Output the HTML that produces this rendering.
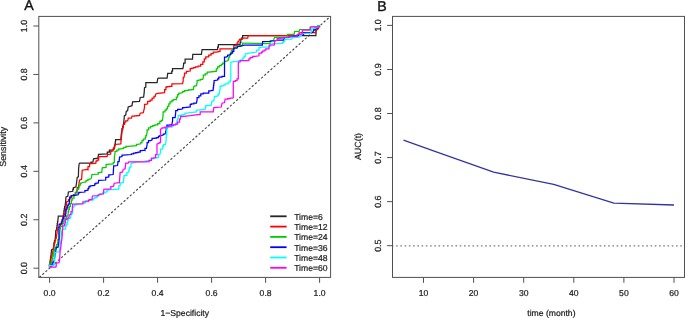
<!DOCTYPE html><html><head><meta charset="utf-8"><style>html,body{margin:0;padding:0;background:#fff;}svg{display:block;will-change:transform;}text{font-family:"Liberation Sans",sans-serif;text-rendering:geometricPrecision;}</style></head><body>
<svg width="685" height="318" viewBox="0 0 685 318">
<rect width="685" height="318" fill="#fff"/>
<rect x="38.8" y="16.4" width="291.80" height="261.00" fill="none" stroke="#505050" stroke-width="1"/>
<clipPath id="ca"><rect x="38.8" y="16.4" width="291.8" height="261"/></clipPath>
<line x1="36.10" y1="280.31" x2="333.10" y2="13.89" stroke="#484848" stroke-width="1.15" stroke-dasharray="2.3 1.9" clip-path="url(#ca)"/>
<line x1="49.60" y1="277.4" x2="49.60" y2="282.80" stroke="#505050" stroke-width="1"/>
<line x1="33.40" y1="268.20" x2="38.8" y2="268.20" stroke="#505050" stroke-width="1"/>
<text x="49.60" y="295.90" font-size="8.6" text-anchor="middle" fill="#222" stroke="#222" stroke-width="0.22">0.0</text>
<text transform="translate(26.60,268.20) rotate(-90)" font-size="8.9" text-anchor="middle" fill="#222" stroke="#222" stroke-width="0.22">0.0</text>
<line x1="103.60" y1="277.4" x2="103.60" y2="282.80" stroke="#505050" stroke-width="1"/>
<line x1="33.40" y1="219.76" x2="38.8" y2="219.76" stroke="#505050" stroke-width="1"/>
<text x="103.60" y="295.90" font-size="8.6" text-anchor="middle" fill="#222" stroke="#222" stroke-width="0.22">0.2</text>
<text transform="translate(26.60,219.76) rotate(-90)" font-size="8.9" text-anchor="middle" fill="#222" stroke="#222" stroke-width="0.22">0.2</text>
<line x1="157.60" y1="277.4" x2="157.60" y2="282.80" stroke="#505050" stroke-width="1"/>
<line x1="33.40" y1="171.32" x2="38.8" y2="171.32" stroke="#505050" stroke-width="1"/>
<text x="157.60" y="295.90" font-size="8.6" text-anchor="middle" fill="#222" stroke="#222" stroke-width="0.22">0.4</text>
<text transform="translate(26.60,171.32) rotate(-90)" font-size="8.9" text-anchor="middle" fill="#222" stroke="#222" stroke-width="0.22">0.4</text>
<line x1="211.60" y1="277.4" x2="211.60" y2="282.80" stroke="#505050" stroke-width="1"/>
<line x1="33.40" y1="122.88" x2="38.8" y2="122.88" stroke="#505050" stroke-width="1"/>
<text x="211.60" y="295.90" font-size="8.6" text-anchor="middle" fill="#222" stroke="#222" stroke-width="0.22">0.6</text>
<text transform="translate(26.60,122.88) rotate(-90)" font-size="8.9" text-anchor="middle" fill="#222" stroke="#222" stroke-width="0.22">0.6</text>
<line x1="265.60" y1="277.4" x2="265.60" y2="282.80" stroke="#505050" stroke-width="1"/>
<line x1="33.40" y1="74.44" x2="38.8" y2="74.44" stroke="#505050" stroke-width="1"/>
<text x="265.60" y="295.90" font-size="8.6" text-anchor="middle" fill="#222" stroke="#222" stroke-width="0.22">0.8</text>
<text transform="translate(26.60,74.44) rotate(-90)" font-size="8.9" text-anchor="middle" fill="#222" stroke="#222" stroke-width="0.22">0.8</text>
<line x1="319.60" y1="277.4" x2="319.60" y2="282.80" stroke="#505050" stroke-width="1"/>
<line x1="33.40" y1="26.00" x2="38.8" y2="26.00" stroke="#505050" stroke-width="1"/>
<text x="319.60" y="295.90" font-size="8.6" text-anchor="middle" fill="#222" stroke="#222" stroke-width="0.22">1.0</text>
<text transform="translate(26.60,26.00) rotate(-90)" font-size="8.9" text-anchor="middle" fill="#222" stroke="#222" stroke-width="0.22">1.0</text>
<polyline points="49.6,268 49.4,265.4 49.9,263.2 50.5,258.6 51.1,254.1 51.6,249.6 53.3,249 53.9,245.1 53.9,242.8 54.45,242.8 54.45,240.5 55,240.5 55.5,236 55.8,230.3 56.7,229.8 56.7,227.73 56.98,227.73 56.98,225.65 57.25,225.65 57.25,223.57 57.52,223.57 57.52,221.5 57.8,221.5 58.3,216 63.4,216 63.9,212.5 63.9,210.57 64.27,210.57 64.27,208.63 64.63,208.63 64.63,206.7 65,206.7 65.6,202 66,197 67.8,196.4 68.4,192 72.8,191.3 72.8,189.45 73.4,189.45 73.4,187.6 74,187.6 75.9,186.9 76.6,182.5 77.2,177.5 78.4,176.9 78.6,168.9 79.1,163.9 79.7,163.2 91,163.2 91,162 92.9,162 93.5,158.8 97.9,158.2 98.5,154.4 107.3,153.8 107.3,152 109.35,152 109.35,150.2 111.4,150.2 113.9,149.6 113.9,147.4 114.5,147.4 114.5,145.2 115.1,145.2 115.1,143.3 115.33,143.3 115.33,141.4 115.57,141.4 115.57,139.5 115.8,139.5 120.8,139.5 121.4,133.2 122,130.7 122,128.5 122.65,128.5 122.65,126.3 123.3,126.3 123.8,122 124.4,115.7 125.7,115.1 126.3,111.3 127.6,110.7 128.2,106.9 130.1,106.3 132,105.7 132.6,101.9 139.5,101.3 140.2,97.5 143.6,97.1 144.2,92.7 144.5,87.6 145.8,87 145.8,82.6 157.1,82.6 157.7,78.8 158.3,78.2 167.1,78.2 167.7,73.4 171.8,73.4 171.8,71.05 172.55,71.05 172.55,68.7 173.3,68.7 182.9,68.7 183.6,64.7 183.6,63.2 185.1,63.2 185.1,59.2 192.5,59.2 192.8,54.4 201.4,54.4 202.1,49.5 217.6,49.5 217.6,47.05 218.35,47.05 218.35,44.6 219.1,44.6 240.1,44.6 240.1,42.6 240.8,42.6 240.8,39.4 242,39.4 242,37.5 242.65,37.5 242.65,35.6 243.3,35.6 315.9,35.6 316.1,30.1 317.2,29.6 317.2,27.95 318.05,27.95 318.05,26.3 318.9,26.3 319.6,26" fill="none" stroke="#262626" stroke-width="1.25" stroke-linejoin="miter"/>
<polyline points="49.6,268 49.4,266 49.4,264.3 49.95,264.3 49.95,262.6 50.5,262.6 50.5,260.05 51.05,260.05 51.05,257.5 51.6,257.5 51.6,255.25 52.2,255.25 52.2,253 52.8,253 52.8,251.1 53.17,251.1 53.17,249.2 53.53,249.2 53.53,247.3 53.9,247.3 53.9,245.05 54.45,245.05 54.45,242.8 55,242.8 55,240.55 55.6,240.55 55.6,238.3 56.2,238.3 56.9,234 57.2,231.4 57.2,229.5 57.75,229.5 57.75,227.6 58.3,227.6 59.4,227 60.5,226.5 60.5,224 61.35,224 61.35,221.5 62.2,221.5 62.2,219.6 62.75,219.6 62.75,217.7 63.3,217.7 63.3,214.9 64.4,214.9 64.4,213.25 64.95,213.25 64.95,211.6 65.5,211.6 65.5,209.4 65.85,209.4 65.85,207.2 66.2,207.2 66.5,202 68.4,201.4 68.4,199.5 69.7,199.5 69.7,198.2 70.9,198.2 71.5,196.4 71.5,195.7 73.4,195.7 73.4,194.5 75.3,194.5 75.3,192.6 76.6,192.6 77.2,188.8 77.2,187.6 78.4,187.6 79.1,182.5 79.7,180 81.6,179.4 82.2,170.2 87.2,169.5 88,169.8 88,166.6 89.6,166.6 89.6,163.5 91.9,163.5 95.9,163.1 95.9,161.1 97,161.1 97,160 98.6,160 98.8,157.5 98.8,156.5 107,156.5 107.6,154.6 110.7,154 110.7,151.4 111.4,151.4 113.2,150.8 113.2,148.3 114.5,148.3 115.1,144.5 120.8,143.9 121.4,137.6 122,132 122,129.75 122.65,129.75 122.65,127.5 123.3,127.5 123.3,124.4 124.6,124.4 124.6,122 125.7,122 125.7,120.8 127.6,120.8 128.2,118.9 128.2,118.2 131.4,118.2 132,116.4 132,116.17 134.5,116.17 134.5,115.93 137,115.93 137,115.7 139.5,115.7 140.2,113.2 143.3,112.6 143.9,110.1 144.5,107.6 144.5,104.4 145.8,104.4 147.7,103.8 147.7,101.3 150.2,101.3 150.2,100 152.1,100 152.1,98.1 154,98.1 154,96.3 155.2,96.3 155.8,93.9 157.7,93.3 164.6,92.7 164.6,89.5 165.9,89.5 165.9,87 166.9,87 166.9,86.65 169.4,86.65 169.4,86.3 171.9,86.3 171.9,83.8 173.2,83.8 182.6,83.6 183.2,80.7 183.2,77.5 183.9,77.5 184.5,75 184.5,73.1 186.4,73.1 186.4,71.3 187.6,71.3 190.2,71 190.2,68.7 191.8,68.7 191.8,68.2 193.65,68.2 193.65,67.7 195.5,67.7 195.5,66.95 198.05,66.95 198.05,66.2 200.6,66.2 200.6,64.3 202.8,64.3 202.8,61.8 204.3,61.8 204.3,58.8 205.8,58.8 205.8,56.9 208.7,56.9 208.7,55.1 211,55.1 211,53.6 213.2,53.6 213.2,52 216.3,52 220,51.4 220,48.8 222.5,48.8 233.8,48.8 233.8,45.7 235.1,45.7 237,45.1 237,43.2 237.95,43.2 237.95,41.3 238.9,41.3 239.5,39.4 242,38.8 243.3,38.2 247.7,38.2 248.3,35.5 299,35.5 299,32.8 300,32.8 301.8,32.5 315.6,32.5 316.1,29.6 316.1,28.5 317.2,28.5 318.4,28.7 318.4,27 319.2,27 319.6,26" fill="none" stroke="#ff0000" stroke-width="1.25" stroke-linejoin="miter"/>
<polyline points="49.6,268 49.9,266 49.9,263.2 51.6,263.2 51.6,260.9 52.2,260.9 52.2,258.6 52.8,258.6 52.8,256.73 53.17,256.73 53.17,254.87 53.53,254.87 53.53,253 53.9,253 53.9,251 54.45,251 54.45,249 55,249 55,247.9 56.2,247.9 56.2,246.2 56.75,246.2 56.75,244.5 57.3,244.5 57.9,241.7 57.9,239.4 59,239.4 59.6,236 60,230.3 60.5,228.1 60.5,226.5 62.2,226.5 62.2,223.7 63.3,223.7 63.3,221 64.9,221 64.9,218.2 66.6,218.2 66.6,216 67.7,216 68.2,213.8 68.2,211.6 68.75,211.6 68.75,209.4 69.3,209.4 69.3,206.5 70.4,206.5 70.4,203.3 71.5,203.3 71.5,200.1 72.2,200.1 72.2,198.2 74,198.2 74,195.7 74.7,195.7 74.7,194.5 75.9,194.5 75.9,192 77.2,192 77.2,189.4 78.4,189.4 79.1,187.6 79.1,185.1 80.3,185.1 80.3,183.2 81.6,183.2 82.2,182.5 86,181.9 86,180.7 87.9,180.7 87.9,179.4 89.1,179.4 91,178.8 91.6,176.9 91.9,174.5 98.2,174.1 98.2,172.5 99,172.5 101.8,172.2 102.2,167.8 106.1,167.4 106.1,164.3 106.9,164.3 113.2,163.9 113.2,162.7 114.3,162.7 114.4,157 115,153.2 115,151.4 116.9,151.4 116.9,150.1 118.8,150.1 118.8,148.8 121.3,148.8 123.8,148.2 123.8,147.25 126,147.25 126,146.3 128.2,146.3 136.4,145.7 136.4,144.4 137.6,144.4 140.8,143.8 140.8,142.6 142,142.6 142,140.7 143.3,140.7 143.3,139 145.2,139 145.2,137.25 145.8,137.25 145.8,135.5 146.4,135.5 147.1,132.7 147.1,129.9 148.5,129.9 148.5,127.8 150.7,127.8 150.7,126.4 152.8,126.4 152.8,125.7 154.9,125.7 154.9,124.9 157.7,124.9 157.7,123.5 159.8,123.5 159.8,121.4 161.3,121.4 161.3,120.4 162.5,120.4 163.1,115.1 163.1,111.9 165,111.9 165,110 166.3,110 166.3,108.8 167.5,108.8 167.5,106.3 168.8,106.3 168.8,103.8 170,103.8 170,101.9 171.9,101.9 171.9,100.6 173.2,100.6 173.2,99.5 176.3,99.5 176.3,97 177.6,97 177.6,94.5 178.8,94.5 178.8,93.2 180.7,93.2 182.6,92.6 182.6,91.65 184.5,91.65 184.5,90.7 186.4,90.7 186.4,90.3 188.7,90.3 188.7,89.9 191,89.9 191,89.5 193.3,89.5 193.9,86.3 196.4,85.7 197.1,82.6 197.1,80.7 198.3,80.7 198.3,80.05 200.5,80.05 200.5,79.4 202.7,79.4 203.3,77.5 203.3,75 205.2,75 205.2,73.8 207.1,73.8 207.1,72 210,72 210,71.77 212.1,71.77 212.1,71.53 214.2,71.53 214.2,71.3 216.3,71.3 216.3,68.8 217.6,68.8 217.6,66.9 219.4,66.9 219.4,65.7 221.3,65.7 221.3,64.4 222.6,64.4 222.6,63.1 224.5,63.1 224.5,61.3 225.7,61.3 228.2,60.6 228.2,58.8 228.8,58.8 228.8,57 229.4,57 230.1,55.1 230.1,53.9 231.3,53.9 231.3,50.7 232.6,50.7 232.6,48.8 233.8,48.8 234.5,47.6 236.4,47 236.4,46.3 238.9,46.3 240.1,45.7 242,45.1 242.6,44.4 242.6,43.2 243.3,43.2 269.7,43.5 270.2,42.1 270.2,40.6 271.3,40.6 273.7,40.4 274.4,37.3 287.1,37.3 287.3,34.4 294.1,34.4 294.6,31.5 299.1,31.4 299.8,29.5 310.1,29.3 310.4,27 317.7,26.5 317.7,25.6 318.5,25.6 319.6,25.8" fill="none" stroke="#00cd00" stroke-width="1.25" stroke-linejoin="miter"/>
<polyline points="49.6,268 49.6,266 51.1,266 51.1,264.3 52.8,264.3 52.8,262 53.9,262 54.5,258.6 55,255.3 55.6,251.9 56.2,248.5 56.2,247.3 57.9,247.3 58.4,245.1 58.8,242.8 59,240 58.9,231.4 59.1,224.3 61.6,223.7 62.2,221.5 62.2,219.85 63,219.85 63,218.2 63.8,218.2 63.8,216 65.5,216 66,211.6 66,209.7 66.85,209.7 66.85,207.8 67.7,207.8 67.7,205 68.5,205 68.5,204.2 69.2,204.2 69.6,199.9 69.6,197.2 71.1,197.2 71.1,195.6 72.7,195.6 75.9,195.2 78.2,194.8 78.2,193.2 79,193.2 79,192.4 79.8,192.4 84.9,192 84.9,190.5 85.7,190.5 88,190.1 88,188.5 88.8,188.5 88.8,186.9 90,186.9 90,185.8 90.8,185.8 94.7,185.4 94.7,183.8 95.9,183.8 95.9,183 98.2,183 98.6,180.4 105.7,180 105.7,177.3 106.5,177.3 108.8,176.9 108.8,174.9 109.6,174.9 113.2,174.5 113.6,167.4 113.6,165.9 114.7,165.9 117.5,165.5 117.9,162.7 117.9,161.5 119.1,161.5 119.6,157.1 122,156.5 122,155.2 123.3,155.2 131.4,154.5 131.4,153.85 133.6,153.85 133.6,153.2 135.8,153.2 135.8,152.6 138,152.6 138,152 140.2,152 140.2,150.7 142,150.7 144.5,150.1 145,150.4 145,148.3 146.4,148.3 147.1,144.7 147.1,142.6 148.5,142.6 148.5,140.5 150.7,140.5 152.1,139.8 152.1,138.4 154.9,138.4 154.9,138.05 156.65,138.05 156.65,137.7 158.4,137.7 158.4,136.3 159.8,136.3 159.8,135.5 161.3,135.5 163.4,134.8 163.4,134.1 164.8,134.1 165.5,132.7 166.2,129.9 166.2,128.3 166.9,128.3 166.9,125.1 168.8,125.1 171.9,124.5 172.6,120.7 172.6,117.6 175.1,117.6 175.7,112.6 175.7,110.7 177.6,110.7 177.6,109.4 180.1,109.4 182.6,108.8 182.6,107.5 184.5,107.5 190.2,106.9 190.2,104.4 191.4,104.4 191.4,103.75 193.9,103.75 193.9,103.1 196.4,103.1 197.1,100 197.1,97.6 198.9,97.6 198.9,95.8 200.8,95.8 200.8,93.9 203.3,93.9 203.3,93.2 206.5,93.2 208.8,93.2 208.8,90.8 210.2,90.8 213.2,90.2 213.2,87.83 213.5,87.83 213.5,85.45 213.8,85.45 213.8,83.08 214.1,83.08 214.1,80.7 214.4,80.7 217.6,80.1 217.6,78.8 218.8,78.8 218.8,77 222,77 222,76.3 224.5,76.3 224.5,57 226.3,57 227.6,56.4 227.6,55.1 228.8,55.1 230.7,54.5 230.7,53.2 232.6,53.2 232.6,51.4 233.8,51.4 233.8,48.2 237,48.2 237.6,47 237.6,46.3 240.1,46.3 242.6,45.7 243.9,45.1 262.3,45.1 262.6,41.6 270.6,41.5 271.5,41 274.4,40.8 275.5,40.6 278.5,40.1 283.8,40.1 284.3,37.7 288.7,37.5 288.7,36.8 289.6,36.8 292.5,36.7 292.5,36.37 294.7,36.37 294.7,36.03 296.9,36.03 296.9,35.7 299.1,35.7 299.1,35 301.3,35 303.6,34.8 303.6,32.9 312.6,32.5 313.1,31.6 313.6,30.5 313.6,29.5 315,29.5 315,28 317,28 317,26.7 318.7,26.7 319.6,26" fill="none" stroke="#0000ff" stroke-width="1.25" stroke-linejoin="miter"/>
<polyline points="49.6,268 49.6,265.4 52.2,265.4 54.5,264.9 55,252.4 59,251.9 59.6,250.7 60.1,245.1 60.7,242.8 61.2,239.4 61.4,236 61.6,233.7 61.6,232 62.15,232 62.15,230.3 62.7,230.3 62.7,229.2 65.5,229.2 65.5,225.9 66.6,225.9 66.6,224.25 67.15,224.25 67.15,222.6 67.7,222.6 67.7,220.7 68.25,220.7 68.25,218.8 68.8,218.8 70.4,218.2 71,214.9 71,213.8 72.6,213.8 72.8,207.7 73.9,207 74.3,205.8 74.3,205 75.9,205 75.9,203.8 77,203.8 82.9,203.4 85.3,203 85.3,200.7 86.5,200.7 89.2,200.3 93.2,199.9 93.2,198.7 94.7,198.7 94.7,197.5 97.1,197.5 97.1,195.6 97.9,195.6 97.9,194.6 100.25,194.6 100.25,193.6 102.6,193.6 102.6,192.8 104.9,192.8 104.9,192 106.5,192 106.5,190.9 108.1,190.9 108.1,189.7 110.5,189.7 118.8,189.1 118.8,185.8 120.1,185.8 120.3,183 123.4,182.4 123.4,180.3 123.67,180.3 123.67,178.2 123.93,178.2 123.93,176.1 124.2,176.1 124.2,175.3 126.9,175.3 126.9,172.5 127.7,172.5 128.9,171.8 128.9,170 129.3,170 129.3,168.2 129.7,168.2 129.7,167 130.8,167 131.2,163.5 132.8,163.1 132.8,162.5 135.4,162.5 135.4,161.9 138,161.9 145,161.5 145,161.1 147.13,161.1 147.13,160.7 149.27,160.7 149.27,160.3 151.4,160.3 151.4,158.9 153.5,158.9 153.5,158.2 155.95,158.2 155.95,157.5 158.4,157.5 158.4,154.6 159.8,154.6 160.5,151.8 160.5,149 162.7,149 162.7,146.1 163.4,146.1 163.4,144.7 165.5,144.7 166.2,139.8 166.2,137.43 166.43,137.43 166.43,135.07 166.67,135.07 166.67,132.7 166.9,132.7 166.9,128.5 166.9,127.1 169.7,127.1 171.9,127.1 171.9,125.7 173.3,125.7 173.3,124.5 176.3,124.5 176.3,122.6 176.93,122.6 176.93,120.7 177.57,120.7 177.57,118.8 178.2,118.8 178.2,115.7 179.5,115.7 179.5,115.27 181.37,115.27 181.37,114.83 183.23,114.83 183.23,114.4 185.1,114.4 185.1,113.2 187,113.2 190.2,112.6 196.4,111.9 196.4,110 197.7,110 205.2,109.4 205.2,107.55 205.75,107.55 205.75,105.7 206.3,105.7 211.3,105.1 211.9,101.3 213.8,100.7 214.4,97.5 214.4,96.3 216.3,96.3 218.2,95.7 218.2,93.8 219.4,93.8 220.1,88.3 220.1,86.4 221.3,86.4 221.3,85.75 223.2,85.75 223.2,85.1 225.1,85.1 225.1,83.9 228.2,83.9 228.2,82 230.1,82 230.1,80.7 230.8,80.7 230.8,62.5 232,61.9 238.3,61.3 238.3,60.65 240.5,60.65 240.5,60 242.7,60 242.7,58.2 243.95,58.2 243.95,56.4 245.2,56.4 245.2,53.9 246.4,53.9 248.9,53.2 252.7,52.6 256.5,52 256.5,50.1 259,50.1 259,47.6 260.2,47.6 262,47 268.3,47 268.9,46 270.6,46 270.6,43.9 271.5,43.9 274.6,43.7 282.5,43.5 282.5,42.4 283.4,42.4 283.4,41.5 284.3,41.5 284.7,39.9 285.6,39.3 291.6,39.1 292.2,38.2 292.2,37.5 293.4,37.5 299.1,37.2 299.7,36.3 299.7,35.4 301.3,35.4 301.3,34.2 302.5,34.2 302.8,33.5 311.1,33 311.1,31 311.5,31 311.5,29 311.9,29 313.6,28.6 316,28 316,27 318,27 318,26 319.6,26" fill="none" stroke="#00ffff" stroke-width="1.25" stroke-linejoin="miter"/>
<polyline points="49.6,268 49.9,267.1 55.6,267.1 56.2,266.6 56.2,263.2 59,262.6 59.6,260.3 60.1,250.7 60.7,248.5 61.3,242.8 61.8,239.4 62.2,236 62.4,230.3 62.8,227.6 62.8,225.9 64.4,225.9 64.4,224.25 64.95,224.25 64.95,222.6 65.5,222.6 65.5,219.3 67.1,219.3 67.1,218.2 68.8,218.2 69.3,214.9 71,214.4 71,211.6 72.1,211.6 72.4,207.2 72.6,205 72.3,204.2 82.9,203.8 82.9,201.9 83.7,201.9 88.4,201.5 88.4,200.3 89.2,200.3 89.2,199.5 92,199.5 92.4,196 98.7,195.6 99.1,194.4 103.4,194 103.8,189.3 110.8,188.9 110.8,186.5 111.6,186.5 113.6,186.1 114.2,183.2 119.4,182.6 120.1,172.6 122.6,171.9 123.2,169.4 125.1,168.8 125.7,163.8 125.7,163.1 128.2,163.1 128.8,161.9 145,161.9 149.2,161.7 149.2,160.3 151.4,160.3 151.4,158.2 153.5,158.2 155.6,157.5 155.6,154.6 157,154.6 157,144 159.1,143.3 159.1,142.6 160.5,142.6 160.5,129.2 162,128.5 162,127.8 164.8,127.8 164.8,127.1 166.2,127.1 169,126.4 169,126.05 171.15,126.05 171.15,125.7 173.3,125.7 173.3,124.95 175.4,124.95 175.4,124.2 177.5,124.2 177.5,122.1 179.6,122.1 179.6,119 180.3,119 180.7,117 180.7,116.3 183.9,116.3 190.2,115.7 193.9,115.1 200.2,114.4 200.2,111.9 201.5,111.9 213.2,111.9 213.8,107.6 221.3,107 222,103.2 224.5,102.6 225.1,99.4 225.1,99 227.6,99 227.6,98.6 230.1,98.6 230.1,98.2 232.6,98.2 233.3,97.7 233.3,82.6 233.3,81.4 235.2,81.4 235.2,80.7 237,80.7 237,78.8 238.3,78.8 238.3,62.5 240.2,61.9 240.2,60.6 242.7,60.6 248.9,60.6 248.9,58.9 250.2,58.9 250.2,57.6 252.7,57.6 252.7,56.4 255.2,56.4 259,55.8 259,53.2 261.5,53.2 261.5,52.2 262.5,52.2 262.5,51.1 264.15,51.1 264.15,50 265.8,50 265.8,48.9 268.9,48.9 269.3,45.2 274.4,44.8 274.6,41.5 275.2,40.6 277.2,40.4 277.2,38.6 278.5,38.6 279.2,38.4 282.5,38.2 282.9,37.5 288.7,37.3 288.7,36.4 289.6,36.4 297.2,36 297.2,34.4 298.2,34.4 301.3,34.1 302.3,33.8 302.3,30.1 310.1,30.1 310.4,27 319.6,26.6 320.2,26" fill="none" stroke="#ff00ff" stroke-width="1.25" stroke-linejoin="miter"/>
<line x1="270.2" y1="216.3" x2="286.6" y2="216.3" stroke="#262626" stroke-width="1.8"/>
<text x="294.20" y="219.70" font-size="8.6" text-anchor="start" fill="#222" stroke="#222" stroke-width="0.22">Time=6</text>
<line x1="270.2" y1="226.6" x2="286.6" y2="226.6" stroke="#ff0000" stroke-width="1.8"/>
<text x="294.20" y="230.00" font-size="8.6" text-anchor="start" fill="#222" stroke="#222" stroke-width="0.22">Time=12</text>
<line x1="270.2" y1="236.9" x2="286.6" y2="236.9" stroke="#00cd00" stroke-width="1.8"/>
<text x="294.20" y="240.30" font-size="8.6" text-anchor="start" fill="#222" stroke="#222" stroke-width="0.22">Time=24</text>
<line x1="270.2" y1="247.2" x2="286.6" y2="247.2" stroke="#0000ff" stroke-width="1.8"/>
<text x="294.20" y="250.60" font-size="8.6" text-anchor="start" fill="#222" stroke="#222" stroke-width="0.22">Time=36</text>
<line x1="270.2" y1="257.5" x2="286.6" y2="257.5" stroke="#00ffff" stroke-width="1.8"/>
<text x="294.20" y="260.90" font-size="8.6" text-anchor="start" fill="#222" stroke="#222" stroke-width="0.22">Time=48</text>
<line x1="270.2" y1="267.8" x2="286.6" y2="267.8" stroke="#ff00ff" stroke-width="1.8"/>
<text x="294.20" y="271.20" font-size="8.6" text-anchor="start" fill="#222" stroke="#222" stroke-width="0.22">Time=60</text>
<text x="184.80" y="316.00" font-size="8.6" text-anchor="middle" fill="#222" stroke="#222" stroke-width="0.22">1−Specificity</text>
<text transform="translate(6.30,146.80) rotate(-90)" font-size="8.9" text-anchor="middle" fill="#222" stroke="#222" stroke-width="0.22">Sensitivity</text>
<text x="24.20" y="9.90" font-size="14.2" text-anchor="start" fill="#111" stroke="#111" stroke-width="0.35">A</text>
<rect x="392.5" y="16.4" width="292.00" height="261.00" fill="none" stroke="#505050" stroke-width="1"/>
<line x1="423.50" y1="277.4" x2="423.50" y2="282.80" stroke="#505050" stroke-width="1"/>
<text x="423.50" y="295.90" font-size="8.6" text-anchor="middle" fill="#222" stroke="#222" stroke-width="0.22">10</text>
<line x1="473.60" y1="277.4" x2="473.60" y2="282.80" stroke="#505050" stroke-width="1"/>
<text x="473.60" y="295.90" font-size="8.6" text-anchor="middle" fill="#222" stroke="#222" stroke-width="0.22">20</text>
<line x1="523.70" y1="277.4" x2="523.70" y2="282.80" stroke="#505050" stroke-width="1"/>
<text x="523.70" y="295.90" font-size="8.6" text-anchor="middle" fill="#222" stroke="#222" stroke-width="0.22">30</text>
<line x1="573.80" y1="277.4" x2="573.80" y2="282.80" stroke="#505050" stroke-width="1"/>
<text x="573.80" y="295.90" font-size="8.6" text-anchor="middle" fill="#222" stroke="#222" stroke-width="0.22">40</text>
<line x1="623.90" y1="277.4" x2="623.90" y2="282.80" stroke="#505050" stroke-width="1"/>
<text x="623.90" y="295.90" font-size="8.6" text-anchor="middle" fill="#222" stroke="#222" stroke-width="0.22">50</text>
<line x1="674.00" y1="277.4" x2="674.00" y2="282.80" stroke="#505050" stroke-width="1"/>
<text x="674.00" y="295.90" font-size="8.6" text-anchor="middle" fill="#222" stroke="#222" stroke-width="0.22">60</text>
<line x1="387.10" y1="245.70" x2="392.5" y2="245.70" stroke="#505050" stroke-width="1"/>
<text transform="translate(380.70,245.70) rotate(-90)" font-size="8.9" text-anchor="middle" fill="#222" stroke="#222" stroke-width="0.22">0.5</text>
<line x1="387.10" y1="201.64" x2="392.5" y2="201.64" stroke="#505050" stroke-width="1"/>
<text transform="translate(380.70,201.64) rotate(-90)" font-size="8.9" text-anchor="middle" fill="#222" stroke="#222" stroke-width="0.22">0.6</text>
<line x1="387.10" y1="157.58" x2="392.5" y2="157.58" stroke="#505050" stroke-width="1"/>
<text transform="translate(380.70,157.58) rotate(-90)" font-size="8.9" text-anchor="middle" fill="#222" stroke="#222" stroke-width="0.22">0.7</text>
<line x1="387.10" y1="113.52" x2="392.5" y2="113.52" stroke="#505050" stroke-width="1"/>
<text transform="translate(380.70,113.52) rotate(-90)" font-size="8.9" text-anchor="middle" fill="#222" stroke="#222" stroke-width="0.22">0.8</text>
<line x1="387.10" y1="69.46" x2="392.5" y2="69.46" stroke="#505050" stroke-width="1"/>
<text transform="translate(380.70,69.46) rotate(-90)" font-size="8.9" text-anchor="middle" fill="#222" stroke="#222" stroke-width="0.22">0.9</text>
<line x1="387.10" y1="25.40" x2="392.5" y2="25.40" stroke="#505050" stroke-width="1"/>
<text transform="translate(380.70,25.40) rotate(-90)" font-size="8.9" text-anchor="middle" fill="#222" stroke="#222" stroke-width="0.22">1.0</text>
<line x1="392.5" y1="245.8" x2="684.5" y2="245.8" stroke="#7a7a7a" stroke-width="1.15" stroke-dasharray="1.6 2.64" stroke-dashoffset="0.6"/>
<polyline points="403.5,140.2 433.5,150.8 493.6,172.2 553.7,184.3 613.9,203.2 674,205" fill="none" stroke="#3434a0" stroke-width="1.3" stroke-linejoin="round"/>
<text x="551.40" y="316.00" font-size="8.6" text-anchor="middle" fill="#222" stroke="#222" stroke-width="0.22">time (month)</text>
<text transform="translate(360.50,146.50) rotate(-90)" font-size="8.9" text-anchor="middle" fill="#222" stroke="#222" stroke-width="0.22">AUC(t)</text>
<text x="377.30" y="11.00" font-size="14.2" text-anchor="start" fill="#111" stroke="#111" stroke-width="0.35">B</text>
</svg></body></html>
